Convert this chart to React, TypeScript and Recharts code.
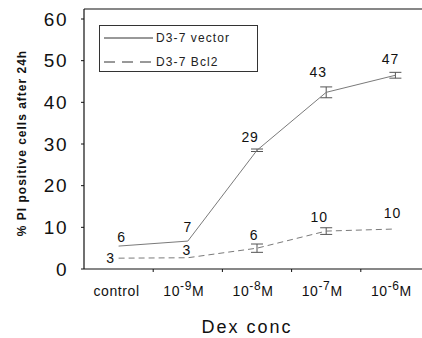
import React from 'react';
import {
  LineChart,
  Line,
  XAxis,
  YAxis,
  ErrorBar,
  LabelList,
  ReferenceLine,
} from 'recharts';

// Dex concentrations, ^ marks the superscript part
const categories = ['control', '10^-9M', '10^-8M', '10^-7M', '10^-6M'];

const vectorValues = [5.5, 6.7, 28.5, 42.4, 46.5];
const vectorErrors = [null, null, 0.3, 1.3, 0.7];
const vectorLabels = ['6', '7', '29', '43', '47'];

const bcl2Values = [2.6, 2.7, 5.0, 9.1, 9.6];
const bcl2Errors = [null, null, 1.0, 0.8, null];
const bcl2Labels = ['3', '3', '6', '10', '10'];

const yTicks = [0, 10, 20, 30, 40, 50, 60];
const yMax = 62.4;

const data = categories.map((name, i) => ({
  name,
  vector: vectorValues[i],
  vectorErr: vectorErrors[i],
  bcl2: bcl2Values[i],
  bcl2Err: bcl2Errors[i],
}));

const FONT = '"Liberation Sans", Arial, sans-serif';
const LINE = '#7a7a7a';

// label offsets from the point (label centre)
const vectorLabelPos = [[3, -9], [0, -14], [-7, -13], [-8, -20], [-5, -16]];
const bcl2LabelPos = [[-8, 0], [-1, -8], [-3, -13], [-7, -14], [-3, -16]];

const makeLabel = (labels: string[], pos: number[][]) => (props: any) => {
  const { x, y, index } = props;
  const [dx, dy] = pos[index];
  return (
    <text
      x={x + dx}
      y={y + dy + 5}
      textAnchor="middle"
      fontSize={14}
      letterSpacing={0.8}
      fontFamily={FONT}
      fill="#111"
    >
      {labels[index]}
    </text>
  );
};

const XTick = (props: any) => {
  const { x, y, payload, width, visibleTicksCount, index } = props;
  const half = width / visibleTicksCount / 2;
  const label: string = payload.value;
  const [base, rest] = label.split('^');
  let text;
  if (rest === undefined) {
    text = <tspan>{base}</tspan>;
  } else {
    const exp = rest.slice(0, -1);
    const unit = rest.slice(-1);
    text = (
      <>
        <tspan>{base}</tspan>
        <tspan dy={-6} fontSize={12}>{exp}</tspan>
        <tspan dy={6}>{unit}</tspan>
      </>
    );
  }
  return (
    <g>
      {index > 0 && (
        <line x1={x - half} x2={x - half} y1={y - 8} y2={y - 5} stroke="#111" />
      )}
      <text
        x={x + (rest === undefined ? -2 : -4)}
        y={y + 19}
        textAnchor="middle"
        fontSize={14}
        letterSpacing={0.6}
        fontFamily={FONT}
        fill="#111"
      >
        {text}
      </text>
    </g>
  );
};

const LegendBox = () => (
  <svg width={159} height={47} style={{ display: 'block' }}>
    <rect x={0.5} y={0.5} width={158} height={46} fill="#fff" stroke="#333" />
    <line x1={5} x2={54} y1={13} y2={13} stroke="#333" />
    <text x={57} y={17} fontSize={12} letterSpacing={1.1} fontFamily={FONT} fill="#222">
      D3-7 vector
    </text>
    <line x1={5} x2={54} y1={37} y2={37} stroke="#333" strokeDasharray="11 7" />
    <text x={57} y={41} fontSize={12} letterSpacing={1.1} fontFamily={FONT} fill="#222">
      D3-7 Bcl2
    </text>
  </svg>
);

export default function App() {
  return (
    <div
      style={{
        position: 'fixed',
        left: 0,
        top: 0,
        width: 422,
        height: 338,
        overflow: 'hidden',
        background: '#fff',
      }}
    >
      <LineChart
        width={430}
        height={338}
        data={data}
        margin={{ top: 9, right: 0, left: 0, bottom: 0 }}
      >
        <XAxis
          dataKey="name"
          scale="band"
          interval={0}
          height={69}
          tickLine={false}
          axisLine={{ stroke: '#111', strokeWidth: 1.2 }}
          tick={<XTick />}
          label={{
            value: 'Dex conc',
            position: 'insideBottom',
            offset: 5,
            dx: -10,
            fontSize: 18,
            letterSpacing: 2,
            fontFamily: FONT,
            fill: '#111',
          }}
        />
        <YAxis
          width={84}
          domain={[0, yMax]}
          ticks={yTicks}
          tickSize={3}
          tickMargin={13}
          tickLine={{ stroke: '#111' }}
          axisLine={{ stroke: '#111', strokeWidth: 1.2 }}
          tick={{ fontSize: 19, fill: '#111', fontFamily: FONT, letterSpacing: 1.5 }}
          label={{
            content: ({ viewBox }: any) => (
              <text
                transform={`translate(22, ${viewBox.y + viewBox.height / 2 + 4}) rotate(-90)`}
                textAnchor="middle"
                dominantBaseline="central"
                fontSize={12}
                letterSpacing={1}
                fontWeight="bold"
                fontFamily={FONT}
                fill="#111"
              >
                % PI positive cells after 24h
              </text>
            ),
          }}
        />
        <ReferenceLine y={yMax} stroke="#111" strokeWidth={1.2} />
        <Line
          dataKey="vector"
          name="D3-7 vector"
          type="linear"
          stroke={LINE}
          strokeWidth={1}
          dot={false}
          activeDot={false}
          isAnimationActive={false}
        >
          <ErrorBar dataKey="vectorErr" width={6} stroke="#555" strokeWidth={1} />
          <LabelList dataKey="vector" content={makeLabel(vectorLabels, vectorLabelPos)} />
        </Line>
        <Line
          dataKey="bcl2"
          name="D3-7 Bcl2"
          type="linear"
          stroke={LINE}
          strokeWidth={1}
          strokeDasharray="6 4"
          dot={false}
          activeDot={false}
          isAnimationActive={false}
        >
          <ErrorBar dataKey="bcl2Err" width={6} stroke="#555" strokeWidth={1} />
          <LabelList dataKey="bcl2" content={makeLabel(bcl2Labels, bcl2LabelPos)} />
        </Line>
      </LineChart>
      <div style={{ position: 'absolute', left: 99, top: 25 }}>
        <LegendBox />
      </div>
    </div>
  );
}
